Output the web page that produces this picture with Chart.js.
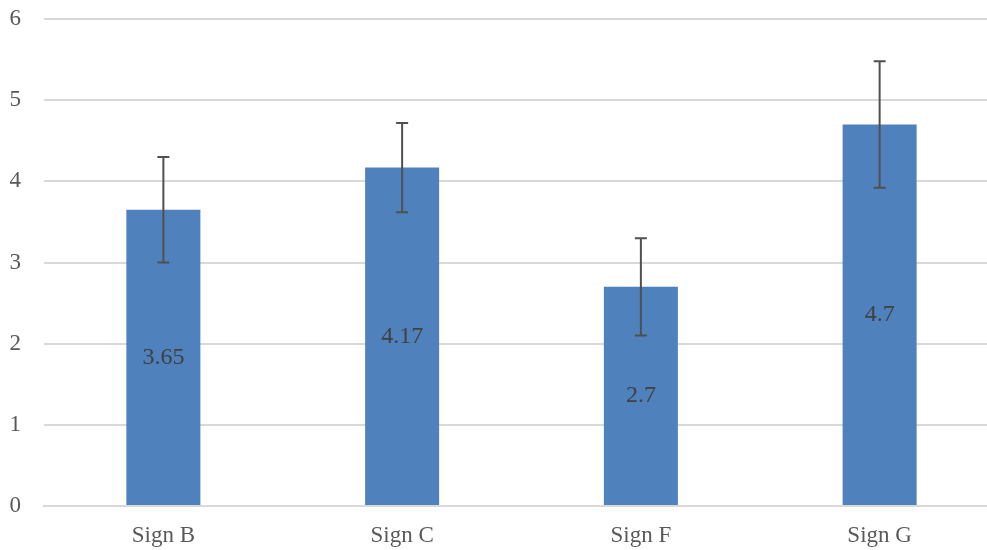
<!DOCTYPE html>
<html>
<head>
<meta charset="utf-8">
<script src="https://cdn.jsdelivr.net/npm/chart.js@4/dist/chart.umd.min.js"></script>
<style>
  html, body { margin: 0; padding: 0; background: #fff; overflow: hidden; }
  #wrap { position: absolute; left: 0; top: 0; width: 999px; height: 550px; }
</style>
</head>
<body>
<div id="wrap"><canvas id="chart"></canvas></div>
<script>
// chart data
const categories = ['Sign B', 'Sign C', 'Sign F', 'Sign G'];
const means = [3.65, 4.17, 2.7, 4.7];
const errors = [0.65, 0.55, 0.6, 0.78];
const yTicks = [0, 1, 2, 3, 4, 5, 6];

const FONT = "'Liberation Serif', 'DejaVu Serif', serif";

// draws symmetric error bars from the y scale
const errorBars = {
    id: 'errorBars',
    afterDatasetsDraw(chart) {
        const ctx = chart.ctx;
        const yScale = chart.scales.y;
        const meta = chart.getDatasetMeta(0);
        ctx.save();
        ctx.strokeStyle = '#505050';
        ctx.lineWidth = 2;
        meta.data.forEach((bar, i) => {
            const x = bar.x;
            const top = yScale.getPixelForValue(means[i] + errors[i]);
            const bottom = yScale.getPixelForValue(means[i] - errors[i]);
            ctx.beginPath();
            ctx.moveTo(x, top);
            ctx.lineTo(x, bottom);
            ctx.moveTo(x - 6, top);
            ctx.lineTo(x + 6, top);
            ctx.moveTo(x - 6, bottom);
            ctx.lineTo(x + 6, bottom);
            ctx.stroke();
        });
        ctx.restore();
    }
};

// value labels in the middle of each bar
const barLabels = {
    id: 'barLabels',
    afterDatasetsDraw(chart) {
        const ctx = chart.ctx;
        const meta = chart.getDatasetMeta(0);
        ctx.save();
        ctx.font = '24px ' + FONT;
        ctx.fillStyle = '#404040';
        ctx.textAlign = 'center';
        ctx.textBaseline = 'middle';
        meta.data.forEach((bar, i) => {
            const mid = (bar.y + bar.base) / 2;
            ctx.fillText(String(means[i]), bar.x, mid);
        });
        ctx.restore();
    }
};

new Chart(document.getElementById('chart'), {
    type: 'bar',
    data: {
        labels: categories,
        datasets: [{
            data: means,
            backgroundColor: '#4F81BD',
            borderWidth: 0,
            barPercentage: 0.31,
            categoryPercentage: 1
        }]
    },
    options: {
        responsive: true,
        maintainAspectRatio: false,
        animation: false,
        layout: { padding: { top: 19, left: 0, right: 0, bottom: 0 } },
        plugins: {
            legend: { display: false },
            tooltip: { enabled: false }
        },
        scales: {
            x: {
                grid: { display: false, drawTicks: false },
                border: { display: true, color: '#d9d9d9', width: 2 },
                ticks: {
                    color: '#595959',
                    font: { family: FONT, size: 23 },
                    padding: 16
                },
                afterFit(scale) {
                    scale.height = 44;
                    scale.paddingLeft = 0;
                    scale.paddingRight = 0;
                }
            },
            y: {
                min: 0,
                max: 6,
                afterBuildTicks(scale) {
                    scale.ticks = yTicks.map(v => ({ value: v }));
                },
                grid: { color: '#d9d9d9', lineWidth: 2, drawTicks: false },
                border: { display: false },
                ticks: {
                    color: '#595959',
                    font: { family: FONT, size: 23 },
                    padding: 23
                },
                afterFit(scale) {
                    scale.width = 44;
                    scale.paddingTop = 0;
                    scale.paddingBottom = 0;
                }
            }
        }
    },
    plugins: [errorBars, barLabels]
});
</script>
</body>
</html>
